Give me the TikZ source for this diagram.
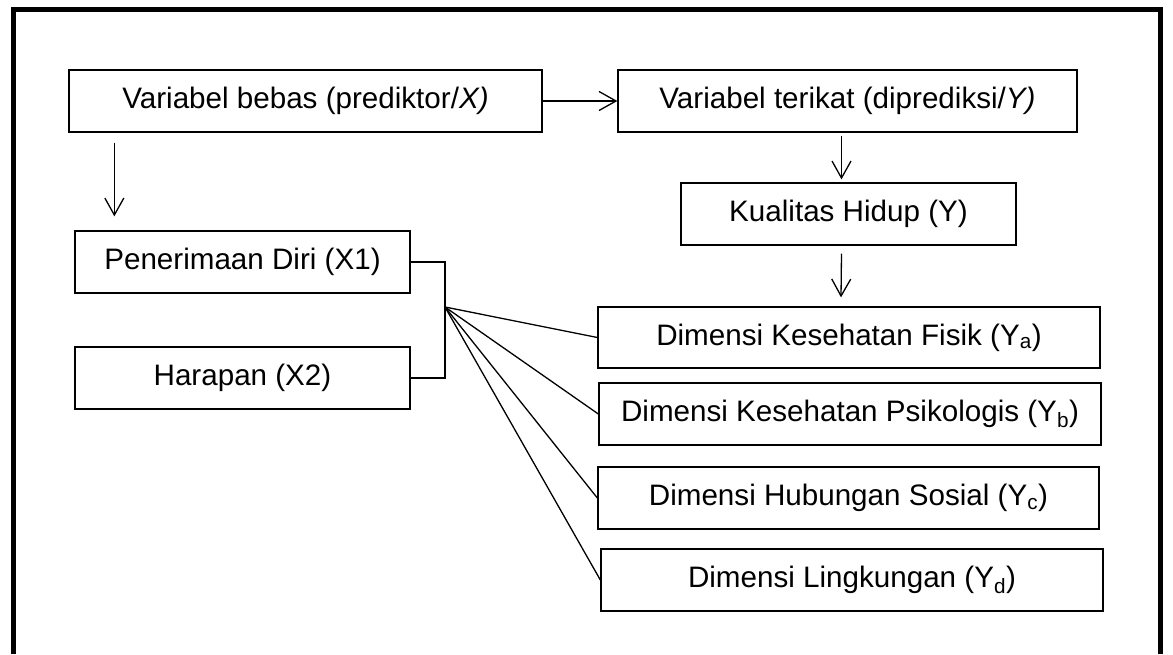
\documentclass[tikz,border=0pt]{standalone}
\usepackage{fontspec}
\setmainfont{Liberation Sans}
\usetikzlibrary{arrows.meta, positioning, calc}

\begin{document}
\begin{tikzpicture}[x=1pt, y=-1pt,
	kotak/.style={draw, line width=1.3pt, minimum height=62pt, inner sep=0pt, font=\fontsize{29.6}{34}\selectfont},
	panah/.style={-{Straight Barb[length=17pt, width=19pt]}, line width=1.3pt},
	garis/.style={line width=1.3pt}]
		\useasboundingbox (0,0) rectangle (1173,654);
		\draw [line width=5pt] (13,654) |- (1160,9) -- (1160,654);
		
		\node[kotak, minimum width=473pt] (bebas) at (305.5,101) {Variabel bebas (prediktor/\textit{X)}};
		\node[kotak, minimum width=459pt] (terikat) at (847.5,101) {Variabel terikat (diprediksi/\textit{Y)}};
		\node[kotak, minimum width=335pt] (kualitas) at (848.5,214) {Kualitas Hidup (Y)};
		\node[kotak, minimum width=335pt] (diri) at (242.5,262) {Penerimaan Diri (X1)};
		\node[kotak, minimum width=335pt] (harapan) at (242.5,378) {Harapan (X2)};
		\node[kotak, minimum width=502pt, minimum height=61pt] (fisik) at (849,337.5) {Dimensi Kesehatan Fisik (Y\textsubscript{a})};
		\node[kotak, minimum width=502pt] (psiko) at (850,414) {Dimensi Kesehatan Psikologis (Y\textsubscript{b})};
		\node[kotak, minimum width=501pt] (sosial) at (848.5,498) {Dimensi Hubungan Sosial (Y\textsubscript{c})};
		\node[kotak, minimum width=502pt] (lingk) at (852,580) {Dimensi Lingkungan (Y\textsubscript{d})};
		
		\draw [panah] (bebas.east) -- (terikat.west);
		\draw [panah] ($(bebas.south west)+(46,10)$) -- ($(diri.north west)+(40,-14)$);
		\draw [panah] ($(terikat.south)+(-6,3)$) -- ($(kualitas.north)+(-7,-3)$);
		\draw [panah] ($(kualitas.south)+(-7,8)$) -- ($(fisik.north)+(-8,-9)$);
		
		\coordinate (pusat) at (445,307);
		\draw [garis] (diri.east) -| (pusat) |- (harapan.east);
		\foreach \n in {fisik, psiko, sosial, lingk}
			\draw [garis] (pusat) -- (\n.west);
\end{tikzpicture}
\end{document}
